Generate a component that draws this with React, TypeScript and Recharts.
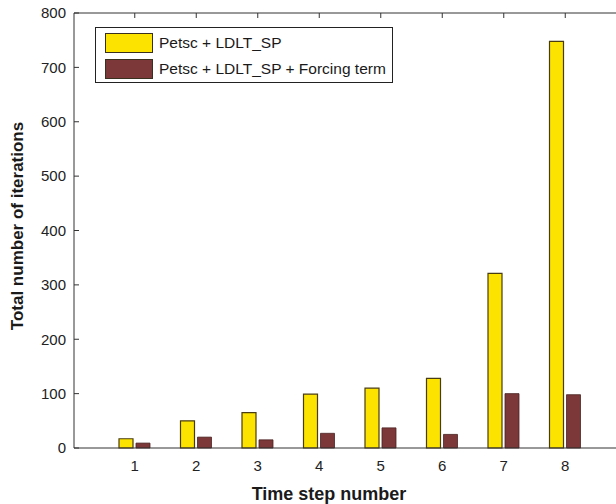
import { BarChart, Bar, XAxis, YAxis } from 'recharts';

const steps = ['1', '2', '3', '4', '5', '6', '7', '8'];
const ldltSp = [17, 50, 65, 99, 110, 128, 321, 748];
const withForcing = [9, 20, 15, 27, 37, 25, 100, 98];
const yTicks = [0, 100, 200, 300, 400, 500, 600, 700, 800];

const NAME_A = 'Petsc + LDLT_SP';
const NAME_B = 'Petsc + LDLT_SP + Forcing term';
const YELLOW = '#fde400';
const MAROON = '#7c3838';
const FONT = '"Liberation Sans", Arial, Helvetica, sans-serif';

const data = steps.map((s, i) => ({ step: s, a: ldltSp[i], b: withForcing[i] }));

function YTitle() {
  return (
    <text x={17} y={226} transform="rotate(-90 17 226)" textAnchor="middle"
      dominantBaseline="central" fontFamily={FONT} fontWeight={700} fontSize={17} fill="#1a1a1a">
      Total number of iterations
    </text>
  );
}

function XTitle() {
  return (
    <text x={329} y={500} textAnchor="middle" fontFamily={FONT} fontWeight={700}
      fontSize={18} fill="#1a1a1a">
      Time step number
    </text>
  );
}

// tick marks on the top frame, pointing down into the plot
function TopTick(props: any) {
  const { x, y } = props;
  return <line x1={x} x2={x} y1={y} y2={y + 5} stroke="#333" />;
}

export default function App() {
  const tick = { fontSize: 15, fill: '#222', fontFamily: FONT };
  const swatch = (c: string) => ({
    width: 46, height: 18, background: c, border: '1px solid #3a3020', marginRight: 6,
  });
  return (
    <div style={{ position: 'absolute', left: 0, top: 0, width: 616, height: 504, overflow: 'hidden', background: '#fff' }}>
      <BarChart width={640} height={504} data={data} barSize={14} barGap={3}
        margin={{ top: 12, right: 14, bottom: 0, left: 0 }}>
        <XAxis xAxisId="top" orientation="top" dataKey="step" height={1}
          padding={{ left: 30, right: 30 }} tickLine={false} tickSize={0} tickMargin={0}
          tick={TopTick} axisLine={{ stroke: '#333' }} />
        <XAxis dataKey="step" height={56} padding={{ left: 30, right: 30 }}
          tickLine={false} tickSize={0} tickMargin={12} tick={tick}
          axisLine={{ stroke: '#333' }} label={{ content: () => <XTitle /> }} />
        <YAxis width={74} domain={[0, 800]} ticks={yTicks} tickSize={-5} tickMargin={13}
          tick={tick} axisLine={{ stroke: '#333' }} tickLine={{ stroke: '#333' }}
          label={{ content: () => <YTitle /> }} />
        <Bar dataKey="a" name={NAME_A} fill={YELLOW} stroke="#4a3c12" strokeWidth={1.2}
          isAnimationActive={false} />
        <Bar dataKey="b" name={NAME_B} fill={MAROON} stroke="#4a2222" strokeWidth={0.8}
          isAnimationActive={false} />
      </BarChart>
      <div style={{
        position: 'absolute', left: 95, top: 27, width: 298, height: 56, boxSizing: 'border-box',
        border: '1px solid #222', background: '#fff', fontFamily: FONT, fontSize: 15.5,
        color: '#1a1a1a', padding: '5px 0 0 9px',
      }}>
        <div style={{ display: 'flex', alignItems: 'center', height: 19, marginBottom: 7 }}>
          <div style={swatch(YELLOW)} />{NAME_A}
        </div>
        <div style={{ display: 'flex', alignItems: 'center', height: 19 }}>
          <div style={swatch(MAROON)} />{NAME_B}
        </div>
      </div>
    </div>
  );
}
